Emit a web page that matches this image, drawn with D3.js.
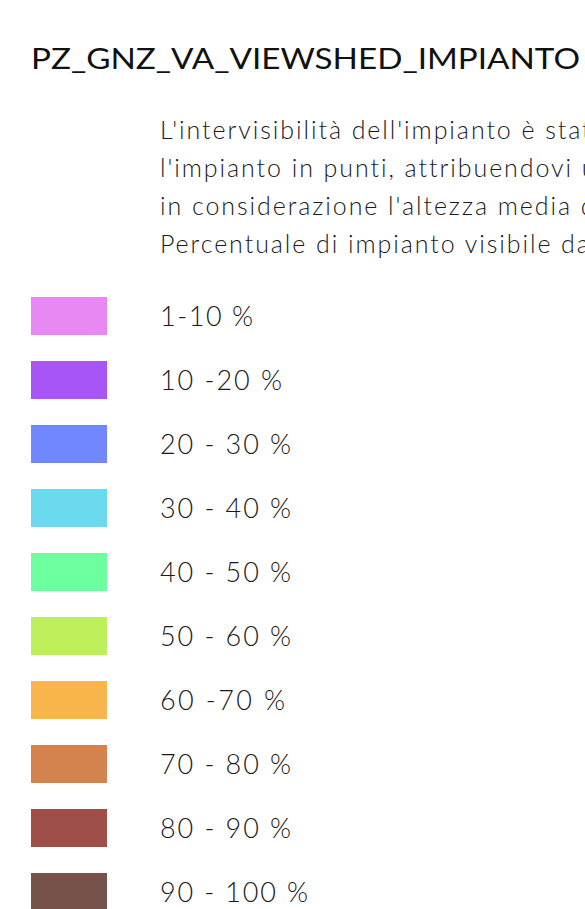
<!DOCTYPE html>
<html>
<head>
<meta charset="utf-8">
<script src="https://cdn.jsdelivr.net/npm/d3@7"></script>
<style>
    html, body { margin: 0; padding: 0; background: #fff; }
    svg { display: block; }
    text { font-family: Lato, "Open Sans", sans-serif; font-weight: 300; }
</style>
</head>
<body>
<div id="legend"></div>
<script>
// Legend content
const title = "PZ_GNZ_VA_VIEWSHED_IMPIANTO";

const descLines = [
    "L'intervisibilità dell'impianto è stata calcolata suddividendo",
    "l'impianto in punti, attribuendovi un'altezza pari a quella",
    "in considerazione l'altezza media dell'osservatore.",
    "Percentuale di impianto visibile dal punto di osservazione"
];

const classes = ["1-10 %", "10 -20 %", "20 - 30 %", "30 - 40 %", "40 - 50 %",
    "50 - 60 %", "60 -70 %", "70 - 80 %", "80 - 90 %", "90 - 100 %"];

const classColors = ["#e888f2", "#a855f7", "#7087ff", "#6cdaee", "#6dff9f",
    "#bdf05a", "#f7b54b", "#d4834e", "#9e5048", "#77524b"];

// label widths (px), used to match the original font width
const labelWidths = [93, 122, 131, 131, 131, 131, 125, 131, 131, 148];

let width = 585, height = 909;

let svg = d3.select("#legend")
    .append("svg")
    .attr("width", width)
    .attr("height", height);

// title
svg.append("text")
    .attr("x", 31)
    .attr("y", 69)
    .attr("textLength", 549)
    .attr("lengthAdjust", "spacingAndGlyphs")
    .style("font-size", "29px")
    .style("font-weight", 400)
    .style("fill", "#111")
    .text(title);

// description, clipped by the right edge like in the original
let descY = d3.scalePoint().domain(d3.range(descLines.length)).range([139, 253]);

let desc = svg.selectAll("text.desc")
    .data(descLines)
    .enter().append("text")
    .attr("class", "desc")
    .attr("x", 160)
    .attr("y", (d, i) => descY(i))
    .style("font-size", "25px")
    .style("fill", "#1a1a1a")
    .text(d => d);

// stretch letter spacing so "in considerazione l'altezza media" is ~410px wide
let probe = svg.append("text").attr("class", "desc").style("font-size", "25px")
    .text("in considerazione l'altezza media");
let probeW = probe.node().getComputedTextLength();
probe.remove();
let spacing = (410 - probeW) / 32;
desc.style("letter-spacing", spacing + "px");

// legend classes
let y = d3.scalePoint().domain(classes).range([316, 892]);

let item = svg.selectAll("g.item")
    .data(classes)
    .enter().append("g")
    .attr("class", "item")
    .attr("transform", d => "translate(0," + y(d) + ")");

item.append("rect")
    .attr("x", 31)
    .attr("y", -19)
    .attr("width", 76)
    .attr("height", 38)
    .style("fill", (d, i) => classColors[i]);

item.append("text")
    .attr("x", 160)
    .attr("y", 10)
    .attr("textLength", (d, i) => labelWidths[i])
    .attr("lengthAdjust", "spacing")
    .style("font-size", "27px")
    .style("fill", "#1a1a1a")
    .text(d => d);
</script>
</body>
</html>
